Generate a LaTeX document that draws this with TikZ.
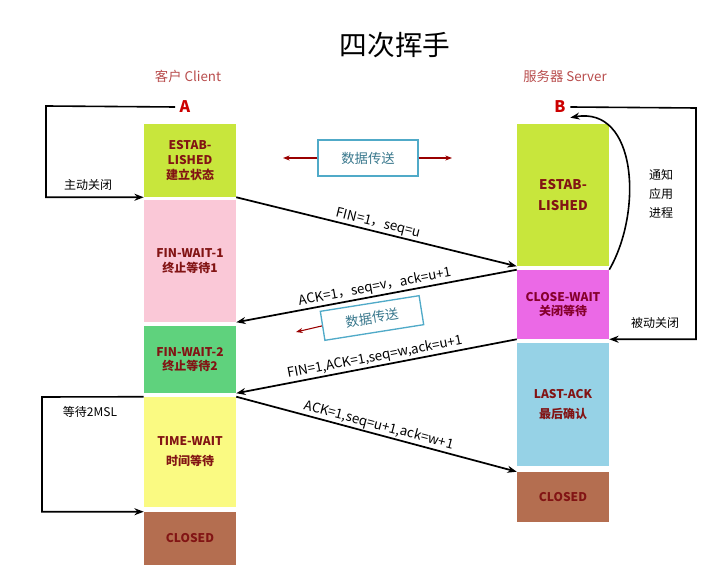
\documentclass[tikz,border=0pt]{standalone}
\usepackage{fontspec}
\setmainfont{Noto Sans CJK SC}
\usetikzlibrary{arrows.meta}
\definecolor{estab}{RGB}{200,230,60}
\definecolor{finone}{RGB}{250,200,215}
\definecolor{fintwo}{RGB}{95,210,125}
\definecolor{timew}{RGB}{250,250,130}
\definecolor{closedc}{RGB}{180,110,80}
\definecolor{closew}{RGB}{235,105,230}
\definecolor{lastack}{RGB}{150,210,230}
\definecolor{txtred}{RGB}{130,20,20}
\definecolor{datablue}{RGB}{80,170,200}
\begin{document}
\begin{tikzpicture}[x=0.75pt,y=-0.75pt,
			state/.style={minimum width=69pt,inner sep=0pt,align=center,font=\bfseries\small,text=txtred},
			msg/.style={-{Stealth[length=7pt]},line width=1.3pt},
			lbl/.style={midway,above,sloped,font=\normalsize,inner sep=1pt},
			loop/.style={-{Stealth[length=7pt]},line width=1.2pt},
			data/.style={draw=datablue,line width=1pt,text=datablue!70!black,minimum width=75pt,minimum height=27pt,font=\normalsize},
			redarr/.style={-{Stealth[length=5pt]},red!60!black,thick},
			side/.style={font=\small}
			]
			\useasboundingbox (0,0) rectangle (711,584);
			
			%% Titles
			\node[font=\huge] (title) at (395,45) {四次挥手};
			\node[text=red!60!black!70,font=\normalsize] (client) at (188,76) {客户 Client};
			\node[text=red!60!black!70,font=\normalsize] (server) at (565,76) {服务器 Server};
			\node[text=red!80!black,font=\bfseries\large] (A) at (185,107) {A};
			\node[text=red!80!black,font=\bfseries\large] (B) at (560,107) {B};
			
			%% Client states
			\node[state,fill=estab,minimum height=54.75pt] (cEst) at (190,160.5) {ESTAB-\\LISHED\\建立状态};
			\node[state,fill=finone,minimum height=91.5pt] (cFw1) at (190,261) {FIN-WAIT-1\\终止等待1};
			\node[state,fill=fintwo,minimum height=50.25pt] (cFw2) at (190,359.5) {FIN-WAIT-2\\终止等待2};
			\node[state,fill=timew,minimum height=82.5pt] (cTw) at (190,452) {TIME-WAIT\\[4pt]时间等待};
			\node[state,fill=closedc,minimum height=39.75pt] (cCl) at (190,538.5) {CLOSED};
			
			%% Server states
			\node[state,fill=estab,minimum height=106.5pt,font=\bfseries\normalsize] (sEst) at (563,195) {ESTAB-\\[4pt]LISHED};
			\node[state,fill=closew,minimum height=51.75pt,text=purple!70!black] (sCw) at (563,304.5) {CLOSE-WAIT\\关闭等待};
			\node[state,fill=lastack,minimum height=92.25pt] (sLa) at (563,404.5) {LAST-ACK\\[4pt]最后确认};
			\node[state,fill=closedc,minimum height=37.5pt] (sCl) at (563,497) {CLOSED};
			
			%% Messages
			\draw[msg] (cEst.south east) -- (sEst.south west) node[lbl] {FIN=1，seq=u};
			\draw[msg] (sCw.north west) -- (cFw1.south east) node[lbl] {ACK=1，seq=v，ack=u+1};
			\draw[msg] (sCw.south west) -- (cFw2.south east) node[lbl] {FIN=1,ACK=1,seq=w,ack=u+1};
			\draw[msg] (cTw.north east) -- (sCl.north west) node[lbl] {ACK=1,seq=u+1,ack=w+1};
			
			%% Data transfer
			\node[data] (data1) at (368,158) {数据传送};
			\coordinate (d1l) at (283,158);
			\coordinate (d1r) at (452,158);
			\draw[redarr] (data1.west) -- (d1l);
			\draw[redarr] (data1.east) -- (d1r);
			\node[data,rotate=9,minimum height=22pt] (data2) at (372,318) {数据传送};
			\coordinate (d2l) at (296,332);
			\draw[redarr] (data2.west) -- (d2l);
			
			%% Loops
			\coordinate (aL) at (46,106);
			\draw[loop] (A.west) -- (aL) |- (cEst.south west);
			\node[side] (active) at (88,185) {主动关闭};
			\coordinate (wL) at (42,397);
			\draw[loop] (cTw.north west) -- (wL) |- (cCl.north west);
			\node[side] (wait) at (90,412) {等待2MSL};
			\coordinate (bR) at (696,108);
			\draw[loop] (B.east) -- (bR) |- (sCw.south east);
			\node[side] (passive) at (655,323) {被动关闭};
			\draw[loop] (sCw.north east) to[out=60,in=10,looseness=1.1] (B.south east);
			\node[side,align=center] (notify) at (661,194) {通知\\[3pt]应用\\[3pt]进程};
			
			\end{tikzpicture}
\end{document}
